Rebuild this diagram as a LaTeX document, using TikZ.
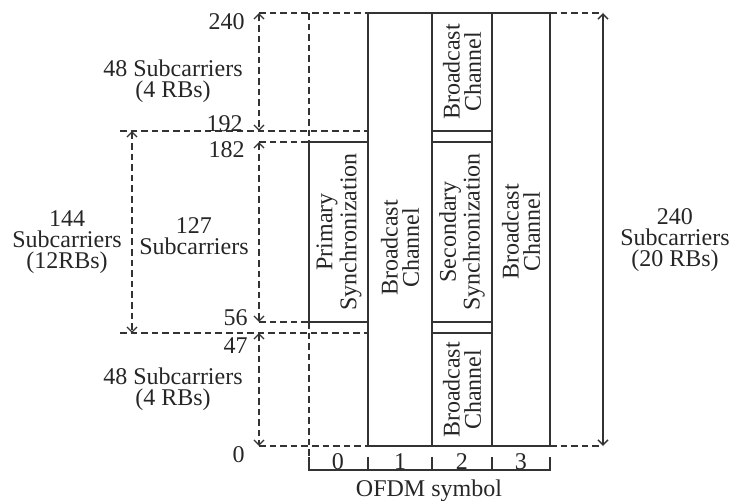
\documentclass[tikz,border=0pt]{standalone}
\usepackage{fontspec}
\setmainfont{Liberation Serif}
\usetikzlibrary{arrows.meta}
\begin{document}
\begin{tikzpicture}[x=0.5pt,y=-0.5pt,
  sline/.style={line width=0.7pt, draw=black!80},
  dline/.style={line width=0.6pt, draw=black!80, dash pattern=on 3.3pt off 2pt},
  tips/.style={{Straight Barb[length=2.6pt,width=5pt]}-{Straight Barb[length=2.6pt,width=5pt]}},
  lbl/.style={font=\fontsize{12}{10.6}\selectfont, align=center, inner sep=0pt, text=black!85},
  vlbl/.style={lbl, rotate=90},
  num/.style={lbl, anchor=east}]
\useasboundingbox (0,0) rectangle (736,501);
% level coordinates on the left arrow
\coordinate (a240) at (259,13);
\coordinate (a192) at (259,131);
\coordinate (a182) at (259,142);
\coordinate (a56) at (259,322);
\coordinate (a47) at (259,333);
\coordinate (a0) at (259,446);
\coordinate (b192) at (132,131);
\coordinate (b47) at (132,333);
\coordinate (l192) at (120,131);
\coordinate (l47) at (120,333);
\coordinate (r240) at (603,13);
\coordinate (r0) at (603,446);
% column coordinates
\coordinate (c0t) at (309,13);
\coordinate (pnw) at (309,142);
\coordinate (pse) at (368,322);
\coordinate (psw) at (309,322);
\coordinate (c1t) at (368,13);
\coordinate (c1u) at (368,131);
\coordinate (c1l) at (368,333);
\coordinate (c1b) at (368,446);
\coordinate (c4t) at (550,13);
\coordinate (c4b) at (550,446);
\coordinate (t0) at (309,457);
% frame
\draw[sline] (c1t) rectangle (c4b);
\draw[sline] (432,13) -- (432,446);
\draw[sline] (492,13) -- (492,446);
\foreach \yy in {131,142,322,333} \draw[sline] (432,\yy) -- (492,\yy);
\draw[sline] (pnw) rectangle (pse);
% dashed guides
\draw[dline] (a240) -- (c1t);
\draw[dline] (l192) -- (c1u);
\draw[dline] (a182) -- (pnw);
\draw[dline] (a56) -- (psw);
\draw[dline] (l47) -- (c1l);
\draw[dline] (a0) -- (c1b);
\draw[dline] (c4t) -- (r240);
\draw[dline] (c4b) -- (r0);
\draw[dline] (c0t) -- (pnw);
\draw[dline] (psw) -- (t0);
% arrows
\draw[dline, tips] (a240) -- (a192);
\draw[dline, tips] (a182) -- (a56);
\draw[dline, tips] (a47) -- (a0);
\draw[dline, tips] (b192) -- (b47);
\draw[sline, tips] (r240) -- (r0);
% axis bracket
\draw[sline] (t0) -- (309,470) -- (550,470) -- (550,457);
\foreach \xx in {368,432,492} \draw[sline] (\xx,457) -- (\xx,470);
% numbers
\node[num] (n240) at (245,22) {240};
\node[num] (n192) at (243,124) {192};
\node[num] (n182) at (245,150) {182};
\node[num] (n56) at (248,318) {56};
\node[num] (n47) at (248,346) {47};
\node[num] (n0) at (245,455) {0};
% side texts
\node[lbl] (t48a) at (173,81) {48 Subcarriers\\(4 RBs)};
\node[lbl] (t48b) at (173,389) {48 Subcarriers\\(4 RBs)};
\node[lbl] (t144) at (67,242) {144\\Subcarriers\\(12RBs)};
\node[lbl] (t127) at (194,236) {127\\Subcarriers};
\node[lbl] (t240) at (675,240) {240\\Subcarriers\\(20 RBs)};
% column texts
\node[vlbl] (pss) at (339,232) {Primary\\Synchronization};
\node[vlbl] (bc1) at (400,248) {Broadcast\\Channel};
\node[vlbl] (bc2a) at (462,72) {Broadcast\\Channel};
\node[vlbl] (sss) at (462,232) {Secondary\\Synchronization};
\node[vlbl] (bc2b) at (462,390) {Broadcast\\Channel};
\node[vlbl] (bc3) at (521,232) {Broadcast\\Channel};
% axis labels
\node[lbl] (s0) at (338,462) {0};
\node[lbl] (s1) at (400,462) {1};
\node[lbl] (s2) at (462,462) {2};
\node[lbl] (s3) at (521,462) {3};
\node[lbl] (ofdm) at (429,491) {OFDM symbol};
\end{tikzpicture}
\end{document}
